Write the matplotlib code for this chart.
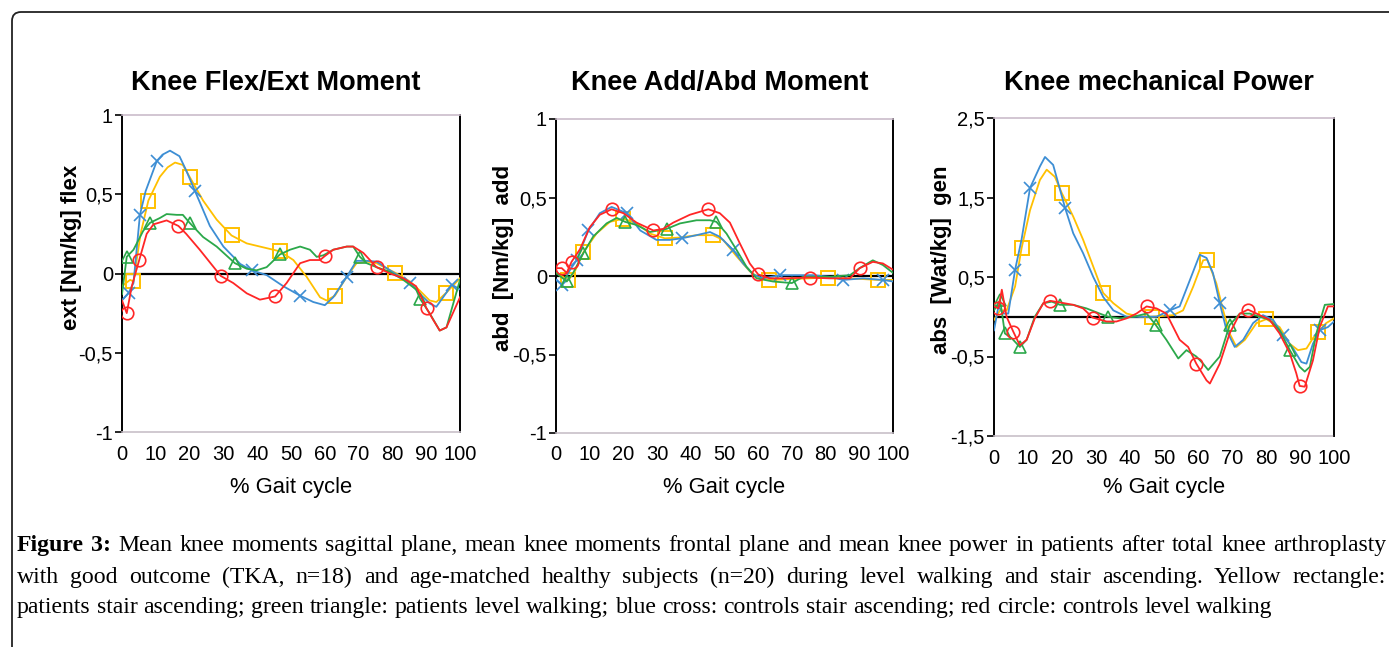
import numpy as np
import matplotlib
matplotlib.use("Agg")
import matplotlib.pyplot as plt
from matplotlib.patches import FancyBboxPatch
from matplotlib.transforms import IdentityTransform

# ---------------- data ----------------
pct_label = "% Gait cycle"
titles = ["Knee Flex/Ext Moment", "Knee Add/Abd Moment", "Knee mechanical Power"]
ylabels = ["ext [Nm/kg] flex", "abd  [Nm/kg]  add", "abs  [Wat/kg]  gen"]
xticks = [0, 10, 20, 30, 40, 50, 60, 70, 80, 90, 100]
yticks_m = [-1, -0.5, 0, 0.5, 1]
yticklabels_m = ["-1", "-0,5", "0", "0,5", "1"]
yticks_p = [-1.5, -0.5, 0.5, 1.5, 2.5]
yticklabels_p = ["-1,5", "-0,5", "0,5", "1,5", "2,5"]

# Panel 1: Knee Flex/Ext moment
fe_blue_x = [0, 2, 3.4, 5.3, 7, 10.3, 12, 14.2, 17, 19, 21.6, 24, 26, 30, 35, 38.4, 42.8, 47.7, 52.7, 56.6, 60, 62.5,
             66.5, 69.4, 72.4, 75.3, 79.3, 82.2, 85.2, 88.2, 91.1, 93, 96, 97.5, 100]
fe_blue_y = [-0.17, -0.12, -0.06, 0.37, 0.52, 0.71, 0.75, 0.775, 0.74, 0.65, 0.52, 0.40, 0.30, 0.17, 0.06, 0.02, -0.01,
             -0.08, -0.14, -0.18, -0.20, -0.15, -0.02, 0.08, 0.08, 0.075, 0.02, -0.02, -0.06, -0.13, -0.19, -0.21,
             -0.12, -0.07, -0.10]
fe_blue_m = [2, 5.3, 10.3, 21.6, 38.4, 52.7, 66.5, 85.2, 97.5]

fe_yellow_x = [0, 2.4, 3.4, 5.5, 7.8, 11.2, 13.5, 15.7, 18, 20, 24, 28, 32.4, 36.9, 40.8, 46.7, 50.7, 54.6, 58.6, 60.5,
               63, 66.5, 69.4, 72.4, 75.3, 80.8, 85.2, 88.2, 91, 93, 96, 100]
fe_yellow_y = [-0.08, -0.04, -0.05, 0.25, 0.46, 0.61, 0.67, 0.70, 0.685, 0.61, 0.46, 0.34, 0.24, 0.19, 0.17, 0.14,
               0.085, -0.02, -0.15, -0.17, -0.14, -0.02, 0.065, 0.075, 0.065, 0.005, -0.05, -0.11, -0.17, -0.18,
               -0.12, -0.03]
fe_yellow_m = [3.4, 7.8, 20, 32.4, 46.7, 63, 80.8, 96]

fe_green_x = [0, 1.4, 3.4, 6.3, 8.3, 11.2, 13.2, 16.2, 18, 20, 24, 28, 33.4, 36.9, 39.8, 42.8, 46.7, 49.7, 52.7, 55.6,
              57.6, 59.6, 62.5, 66.5, 68.4, 70.4, 72.4, 75.3, 79.3, 83.2, 87, 88.2, 91, 94, 96, 100]
fe_green_y = [-0.13, 0.105, 0.15, 0.27, 0.32, 0.35, 0.375, 0.37, 0.37, 0.32, 0.23, 0.17, 0.065, 0.03, 0.02, 0.04, 0.12,
              0.15, 0.17, 0.15, 0.105, 0.115, 0.15, 0.17, 0.17, 0.105, 0.065, 0.04, 0.01, -0.04, -0.10, -0.16, -0.25,
              -0.36, -0.34, -0.04]
fe_green_m = [1.4, 8.3, 20, 33.4, 46.7, 70.4, 88.2]

fe_red_x = [0, 1.4, 2.9, 5.1, 7.3, 9.3, 13.2, 16.7, 19, 23, 29.2, 32.9, 36.9, 40.8, 45.3, 48.7, 52.7, 55.6, 58.6, 60,
            62.5, 66.5, 68.4, 71.4, 75.3, 79.3, 83.2, 87, 90.1, 92, 94, 96, 100]
fe_red_y = [-0.17, -0.25, -0.08, 0.085, 0.25, 0.31, 0.335, 0.30, 0.25, 0.15, -0.015, -0.06, -0.125, -0.165, -0.145,
            -0.06, 0.065, 0.085, 0.085, 0.11, 0.15, 0.17, 0.17, 0.13, 0.04, 0.0, -0.03, -0.08, -0.22, -0.29, -0.36,
            -0.34, -0.15]
fe_red_m = [1.4, 5.1, 16.7, 29.2, 45.3, 60, 75.3, 90.1]

# Panel 2: Knee Add/Abd moment
aa_red_x = [0, 1.7, 3.2, 4.6, 7.1, 10, 13, 16.5, 20, 23.9, 28.9, 31.8, 34.8, 39.7, 45.2, 48.6, 51.6, 54.5, 57.5, 60,
            63.4, 67.4, 75.3, 81.2, 87.2, 90.1, 94, 97, 100]
aa_red_y = [0.05, 0.05, 0.02, 0.09, 0.17, 0.31, 0.39, 0.425, 0.40, 0.34, 0.29, 0.30, 0.34, 0.39, 0.425, 0.40, 0.34,
            0.21, 0.08, 0.01, -0.015, -0.015, -0.01, -0.015, -0.015, 0.05, 0.09, 0.08, 0.04]
aa_red_m = [1.7, 4.6, 16.5, 28.9, 45.2, 60, 75.3, 90.1]

aa_green_x = [0, 3.2, 5.1, 8.1, 11, 15, 18, 20.5, 23.9, 27.9, 32.8, 36.8, 41.7, 45.7, 47.6, 50.6, 53.6, 56.5, 59.5,
              64.4, 70, 73.3, 81.2, 87.2, 90.1, 94, 97, 100]
aa_green_y = [0.02, -0.035, 0.02, 0.145, 0.25, 0.335, 0.37, 0.345, 0.325, 0.28, 0.30, 0.335, 0.355, 0.355, 0.345, 0.27,
              0.165, 0.06, -0.015, -0.035, -0.045, -0.005, -0.005, 0.005, 0.05, 0.10, 0.07, 0.02]
aa_green_m = [3.2, 8.1, 20.5, 32.8, 47.6, 70]

aa_blue_x = [0, 1.7, 4.2, 6.1, 9.6, 13, 16.5, 21, 25, 29.8, 33.8, 37.3, 41.7, 45.7, 48.6, 52.6, 55.5, 58.5, 61.5, 66.4,
             71.3, 76.3, 81.2, 85.2, 91.1, 97, 100]
aa_blue_y = [-0.025, -0.055, 0.04, 0.10, 0.29, 0.40, 0.44, 0.40, 0.29, 0.23, 0.23, 0.24, 0.26, 0.28, 0.25, 0.165, 0.08,
             0.01, -0.015, 0.005, 0.005, 0.005, -0.005, -0.025, -0.015, -0.025, -0.035]
aa_blue_m = [1.7, 6.1, 9.6, 21, 37.3, 52.6, 66.4, 85.2, 97]

aa_yellow_x = [0, 3.7, 5.6, 8.1, 12, 16, 20, 23.9, 27.9, 32.3, 36.8, 41.7, 46.6, 49.6, 53.6, 57.5, 60.5, 63.2, 69.4,
               80.7, 87.2, 95.6, 100]
aa_yellow_y = [0.02, -0.025, 0.03, 0.15, 0.27, 0.345, 0.365, 0.335, 0.27, 0.24, 0.245, 0.26, 0.26, 0.23, 0.125, 0.03,
               -0.015, -0.025, -0.02, -0.01, -0.015, -0.025, -0.025]
aa_yellow_m = [3.7, 8.1, 20, 32.3, 46.6, 63.2, 80.7, 95.6]

# Panel 3: Knee mechanical power
pw_blue_x = [0, 1.3, 2.7, 4.2, 6.2, 8.1, 10.6, 13.5, 15, 17.4, 20.9, 23.3, 26.2, 29.2, 32.1, 35.1, 39, 42.9, 47.8,
             51.7, 54.6, 57.6, 60.5, 62.5, 64.4, 66.4, 68.4, 70.8, 73.3, 76.2, 79.1, 82.1, 85, 88, 90.4, 91.9, 93.8,
             95.8, 98.2, 100]
pw_blue_y = [-0.17, 0.13, 0.04, 0.04, 0.59, 0.97, 1.62, 1.89, 2.01, 1.91, 1.37, 1.05, 0.80, 0.50, 0.25, 0.08, 0.0, 0.0,
             0.0, 0.08, 0.13, 0.46, 0.78, 0.74, 0.55, 0.17, -0.17, -0.38, -0.29, -0.08, 0.02, -0.04, -0.23, -0.40,
             -0.57, -0.59, -0.34, -0.17, -0.13, -0.06]
pw_blue_m = [6.2, 10.6, 20.9, 51.7, 66.4, 85, 95.8]

pw_yellow_x = [0, 1.8, 3.7, 6.2, 8.1, 10.6, 13.5, 15.5, 17.9, 19.9, 23.3, 26.2, 29.2, 32.1, 35.1, 39, 42.9, 46.4, 52.7,
               55.6, 58.6, 61.5, 62.7, 65.4, 67.4, 69.3, 71.3, 73.8, 77.2, 80.1, 84, 87, 89.4, 91.9, 93.8, 95.3, 97.7,
               100]
pw_yellow_y = [-0.04, 0.08, 0.08, 0.38, 0.86, 1.34, 1.72, 1.85, 1.76, 1.56, 1.26, 0.97, 0.63, 0.30, 0.17, 0.04, 0.0,
               0.0, 0.02, 0.08, 0.38, 0.71, 0.72, 0.42, 0.08, -0.21, -0.38, -0.29, -0.08, -0.03, -0.13, -0.34, -0.42,
               -0.40, -0.27, -0.19, -0.08, -0.02]
pw_yellow_m = [8.1, 19.9, 32.1, 46.4, 62.7, 80.1, 95.3]

pw_green_x = [0, 1.8, 3.2, 5.2, 7.6, 9.6, 12, 14.5, 17, 19.4, 23.3, 27.2, 31.1, 33.6, 37, 41, 44.9, 47.6, 50.7, 54.2,
              56.6, 59.5, 61.5, 63, 66.4, 69.3, 72.3, 75.2, 78.2, 81.1, 84, 87, 89.9, 91.4, 92.9, 94.8, 97.3, 100]
pw_green_y = [0.08, 0.21, -0.21, -0.27, -0.38, -0.29, 0.0, 0.17, 0.19, 0.15, 0.15, 0.105, 0.04, 0.0, -0.02, 0.0, 0.04,
              -0.105, -0.29, -0.525, -0.42, -0.50, -0.59, -0.67, -0.50, -0.105, 0.04, 0.04, 0.0, -0.04, -0.17, -0.42,
              -0.63, -0.69, -0.63, -0.21, 0.15, 0.16]
pw_green_m = [1.8, 3.2, 7.6, 19.4, 33.6, 47.6, 69.3, 87]

pw_red_x = [0, 1.3, 2.3, 3.7, 5.7, 7.6, 9.6, 12, 14.5, 16.5, 19.4, 23.3, 26.2, 29, 33.1, 36, 39, 41.9, 44.9, 47.8, 50.7,
            54.6, 57.1, 59.5, 62.5, 63.5, 66.4, 69.3, 72.3, 74.7, 77.2, 81.1, 84, 87, 88.9, 89.9, 91.4, 93.8, 95.8,
            98.2, 100]
pw_red_y = [0.13, 0.105, 0.34, 0.0, -0.19, -0.36, -0.29, -0.02, 0.17, 0.20, 0.18, 0.15, 0.105, -0.01, -0.06, -0.06,
            -0.02, 0.04, 0.13, 0.105, 0.04, -0.29, -0.38, -0.59, -0.80, -0.84, -0.59, -0.21, 0.04, 0.09, 0.04, -0.04,
            -0.21, -0.46, -0.71, -0.87, -0.88, -0.55, -0.13, 0.13, 0.13]
pw_red_m = [1.3, 5.7, 16.5, 29, 44.9, 59.5, 74.7, 89.9]

caption_lines = [
    "Figure 3: Mean knee moments sagittal plane, mean knee moments frontal plane and mean knee power in patients after total knee arthroplasty",
    "with good outcome (TKA, n=18) and age-matched healthy subjects (n=20) during level walking and stair ascending. Yellow rectangle:",
    "patients stair ascending; green triangle: patients level walking; blue cross: controls stair ascending; red circle: controls level walking",
]

# ---------------- styles ----------------
C_YEL, C_GRN, C_BLU, C_RED = "#FFC000", "#2BA84A", "#3D8ED4", "#FF2626"
styles = {
    "yellow": dict(color=C_YEL, marker="s", ms=9.5, mfc="none", mec=C_YEL, mew=1.4),
    "green": dict(color=C_GRN, marker="^", ms=8, mfc="none", mec=C_GRN, mew=1.2),
    "blue": dict(color=C_BLU, marker="x", ms=8, mfc="none", mec=C_BLU, mew=1.2),
    "red": dict(color=C_RED, marker="o", ms=9, mfc="none", mec=C_RED, mew=1.2),
}

W, H = 1389, 647
fig = plt.figure(figsize=(W / 100, H / 100), dpi=100)

# outer rounded frame
frame = FancyBboxPatch((12, -30), 1420, H - 12 + 30, boxstyle="round,pad=0,rounding_size=9",
                       transform=IdentityTransform(), fill=False, ec="#222222", lw=1.3)
fig.patches.append(frame)

def px_rect(l, t, r, b):
    return [l / W, 1 - b / H, (r - l) / W, (b - t) / H]

panels = [
    dict(rect=px_rect(122, 115, 460, 432), ylim=(-1, 1), yt=yticks_m, ytl=yticklabels_m,
         series=[("yellow", fe_yellow_x, fe_yellow_y, fe_yellow_m), ("blue", fe_blue_x, fe_blue_y, fe_blue_m),
                 ("green", fe_green_x, fe_green_y, fe_green_m), ("red", fe_red_x, fe_red_y, fe_red_m)],
         title_x=276, ylab_x=72),
    dict(rect=px_rect(556, 119, 893, 433), ylim=(-1, 1), yt=yticks_m, ytl=yticklabels_m,
         series=[("yellow", aa_yellow_x, aa_yellow_y, aa_yellow_m), ("blue", aa_blue_x, aa_blue_y, aa_blue_m),
                 ("green", aa_green_x, aa_green_y, aa_green_m), ("red", aa_red_x, aa_red_y, aa_red_m)],
         title_x=720, ylab_x=503),
    dict(rect=px_rect(994, 118, 1334, 436), ylim=(-1.5, 2.5), yt=yticks_p, ytl=yticklabels_p,
         series=[("yellow", pw_yellow_x, pw_yellow_y, pw_yellow_m), ("blue", pw_blue_x, pw_blue_y, pw_blue_m),
                 ("green", pw_green_x, pw_green_y, pw_green_m), ("red", pw_red_x, pw_red_y, pw_red_m)],
         title_x=1159, ylab_x=942),
]

SANS = ["Liberation Sans", "DejaVu Sans"]

for i, p in enumerate(panels):
    ax = fig.add_axes(p["rect"])
    for name, xs, ys, ms in p["series"]:
        xs_a = np.asarray(xs)
        idx = [int(np.argmin(np.abs(xs_a - m))) for m in ms]
        st = styles[name]
        ax.plot(xs, ys, lw=1.3, markevery=idx, **st, zorder=3)
    ax.axhline(0, color="black", lw=1.6, zorder=2)
    ax.set_xlim(0, 100)
    ax.set_ylim(*p["ylim"])
    ax.set_xticks(xticks)
    ax.set_xticklabels([str(v) for v in xticks], fontsize=14.5, family=SANS)
    ax.set_yticks(p["yt"])
    ax.set_yticklabels(p["ytl"], fontsize=14.5, family=SANS)
    ax.tick_params(axis="x", length=0, pad=9)
    ax.tick_params(axis="y", length=5, width=1.2, pad=1.5, direction="out")
    ax.spines["left"].set_linewidth(1.4)
    ax.spines["right"].set_linewidth(1.4)
    ax.spines["left"].set_color("black")
    ax.spines["right"].set_color("black")
    ax.spines["top"].set_color("#cbbccb")
    ax.spines["top"].set_linewidth(1.2)
    ax.spines["bottom"].set_color("#c8c0c8")
    ax.spines["bottom"].set_linewidth(1.2)
    ax.spines["bottom"].set_linestyle((0, (1, 1)))
    fig.text(p["title_x"] / W, 1 - 83 / H, titles[i], ha="center", va="center", fontsize=19.5,
             fontweight="bold", family=SANS)
    fig.text(p["ylab_x"] / W, 1 - 165 / H, ylabels[i], ha="center", va="top", rotation=90, fontsize=16,
             fontweight="bold", family=SANS)
    cx = (p["rect"][0] + p["rect"][2] / 2)
    fig.text(cx, 1 - 488 / H, pct_label, ha="center", va="center", fontsize=15.8, family=SANS)

# ---------------- caption (justified) ----------------
SERIF = ["Liberation Serif", "DejaVu Serif"]
renderer = fig.canvas.get_renderer()

def measure(s, fs, weight="normal"):
    t = fig.text(0, 0, s, fontsize=fs, family=SERIF, fontweight=weight)
    w = t.get_window_extent(renderer).width
    t.remove()
    return w

left_px, right_px = 17, 1386
target_last = 1275 - left_px
fs = 10 * target_last / measure(caption_lines[2], 10)
baselines = [551, 583, 613]

for li, line in enumerate(caption_lines):
    words = line.split(" ")
    weights = ["bold" if (li == 0 and k < 2) else "normal" for k in range(len(words))]
    widths = [measure(w, fs, wt) for w, wt in zip(words, weights)]
    if li < 2:
        gap = (right_px - left_px - sum(widths)) / (len(words) - 1)
    else:
        gap = measure("a b", fs) - measure("ab", fs)
    x = left_px
    for w, wt, ww in zip(words, weights, widths):
        fig.text(x / W, 1 - baselines[li] / H, w, fontsize=fs, family=SERIF, fontweight=wt,
                 ha="left", va="baseline")
        x += ww + gap

fig.savefig("out.png", dpi=100)
